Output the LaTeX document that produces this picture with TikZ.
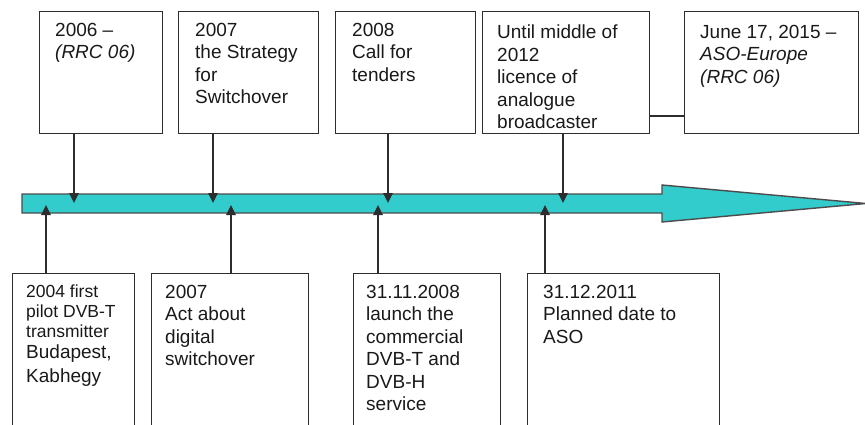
\documentclass[tikz,border=0pt]{standalone}
\usepackage{fontspec}
\setmainfont{Liberation Sans}
\usetikzlibrary{arrows.meta,calc}
\definecolor{bandfill}{RGB}{51,204,204}
\definecolor{edge}{RGB}{45,45,45}
\newcommand{\bigline}{\fontsize{19}{22}\selectfont}
\begin{document}
\begin{tikzpicture}[x=1pt,y=-1pt,
 box/.style={draw=edge, line width=1.3pt, rectangle, inner sep=0pt, anchor=north west},
 txt/.style={anchor=north west, inner sep=0pt, align=left, font=\fontsize{19}{22.5}\selectfont, text=black!90},
 txtsmall/.style={txt, font=\fontsize{17.5}{20}\selectfont},
 conn/.style={draw=edge, line width=1.1pt, -{Triangle[length=10pt,width=9.5pt]}},
 link/.style={draw=edge, line width=1.1pt},
]
\useasboundingbox (0,0) rectangle (865,425);
\clip (0,0) rectangle (865,425);
% time band arrow
\draw[fill=bandfill, draw=edge!85, line width=1.4pt] (22,194) -- (662,194) -- (662,185) -- (866,203.5) -- (662,222) -- (662,213) -- (22,213) -- cycle;
% top boxes
\node[box, minimum width=123pt, minimum height=122pt] (t1) at (39,11) {};
\node[box, minimum width=140pt, minimum height=122pt] (t2) at (178,11) {};
\node[box, minimum width=140pt, minimum height=122pt] (t3) at (335,11) {};
\node[box, minimum width=167pt, minimum height=122pt] (t4) at (482,11) {};
\node[box, minimum width=174pt, minimum height=122pt] (t5) at (684,11) {};
% bottom boxes
\node[box, minimum width=122pt, minimum height=200pt] (b1) at (12,273) {};
\node[box, minimum width=157pt, minimum height=200pt] (b2) at (151,273) {};
\node[box, minimum width=147pt, minimum height=200pt] (b3) at (353,273) {};
\node[box, minimum width=192pt, minimum height=200pt] (b4) at (527,273) {};
% texts
\node[txt] (x1) at (55,23) {2006 –\\\textit{(RRC 06)}};
\node[txt] (x2) at (195,23) {2007\\the Strategy\\for\\Switchover};
\node[txt] (x3) at (352,23) {2008\\Call for\\tenders};
\node[txt] (x4) at (497,25) {Until middle of\\2012\\licence of\\analogue\\broadcaster};
\node[txt] (x5) at (700,25) {June 17, 2015 –\\\textit{ASO-Europe}\\\textit{(RRC 06)}};
\node[txtsmall] (y1) at (26,285) {2004 first\\pilot DVB-T\\transmitter\\[1pt]\bigline Budapest,\\[4pt]\bigline Kabhegy};
\node[txt] (y2) at (165,285) {2007\\Act about\\digital\\switchover};
\node[txt] (y3) at (366,285) {31.11.2008\\launch the\\commercial\\DVB-T and\\DVB-H\\service};
\node[txt] (y4) at (543,285) {31.12.2011\\Planned date to\\ASO};
% points on the band
\coordinate (d1) at (74,203);
\coordinate (d2) at (213,203);
\coordinate (d3) at (388,203);
\coordinate (d4) at (563,203);
\coordinate (u1) at (46,205);
\coordinate (u2) at (231,205);
\coordinate (u3) at (378,205);
\coordinate (u4) at (545,205);
\coordinate (h) at (660,116);
% connectors
\draw[conn] (t1.south -| d1) -- (d1);
\draw[conn] (t2.south -| d2) -- (d2);
\draw[conn] (t3.south -| d3) -- (d3);
\draw[conn] (t4.south -| d4) -- (d4);
\draw[conn] (b1.north -| u1) -- (u1);
\draw[conn] (b2.north -| u2) -- (u2);
\draw[conn] (b3.north -| u3) -- (u3);
\draw[conn] (b4.north -| u4) -- (u4);
\draw[link] (t4.east |- h) -- (t5.west |- h);
\end{tikzpicture}
\end{document}
